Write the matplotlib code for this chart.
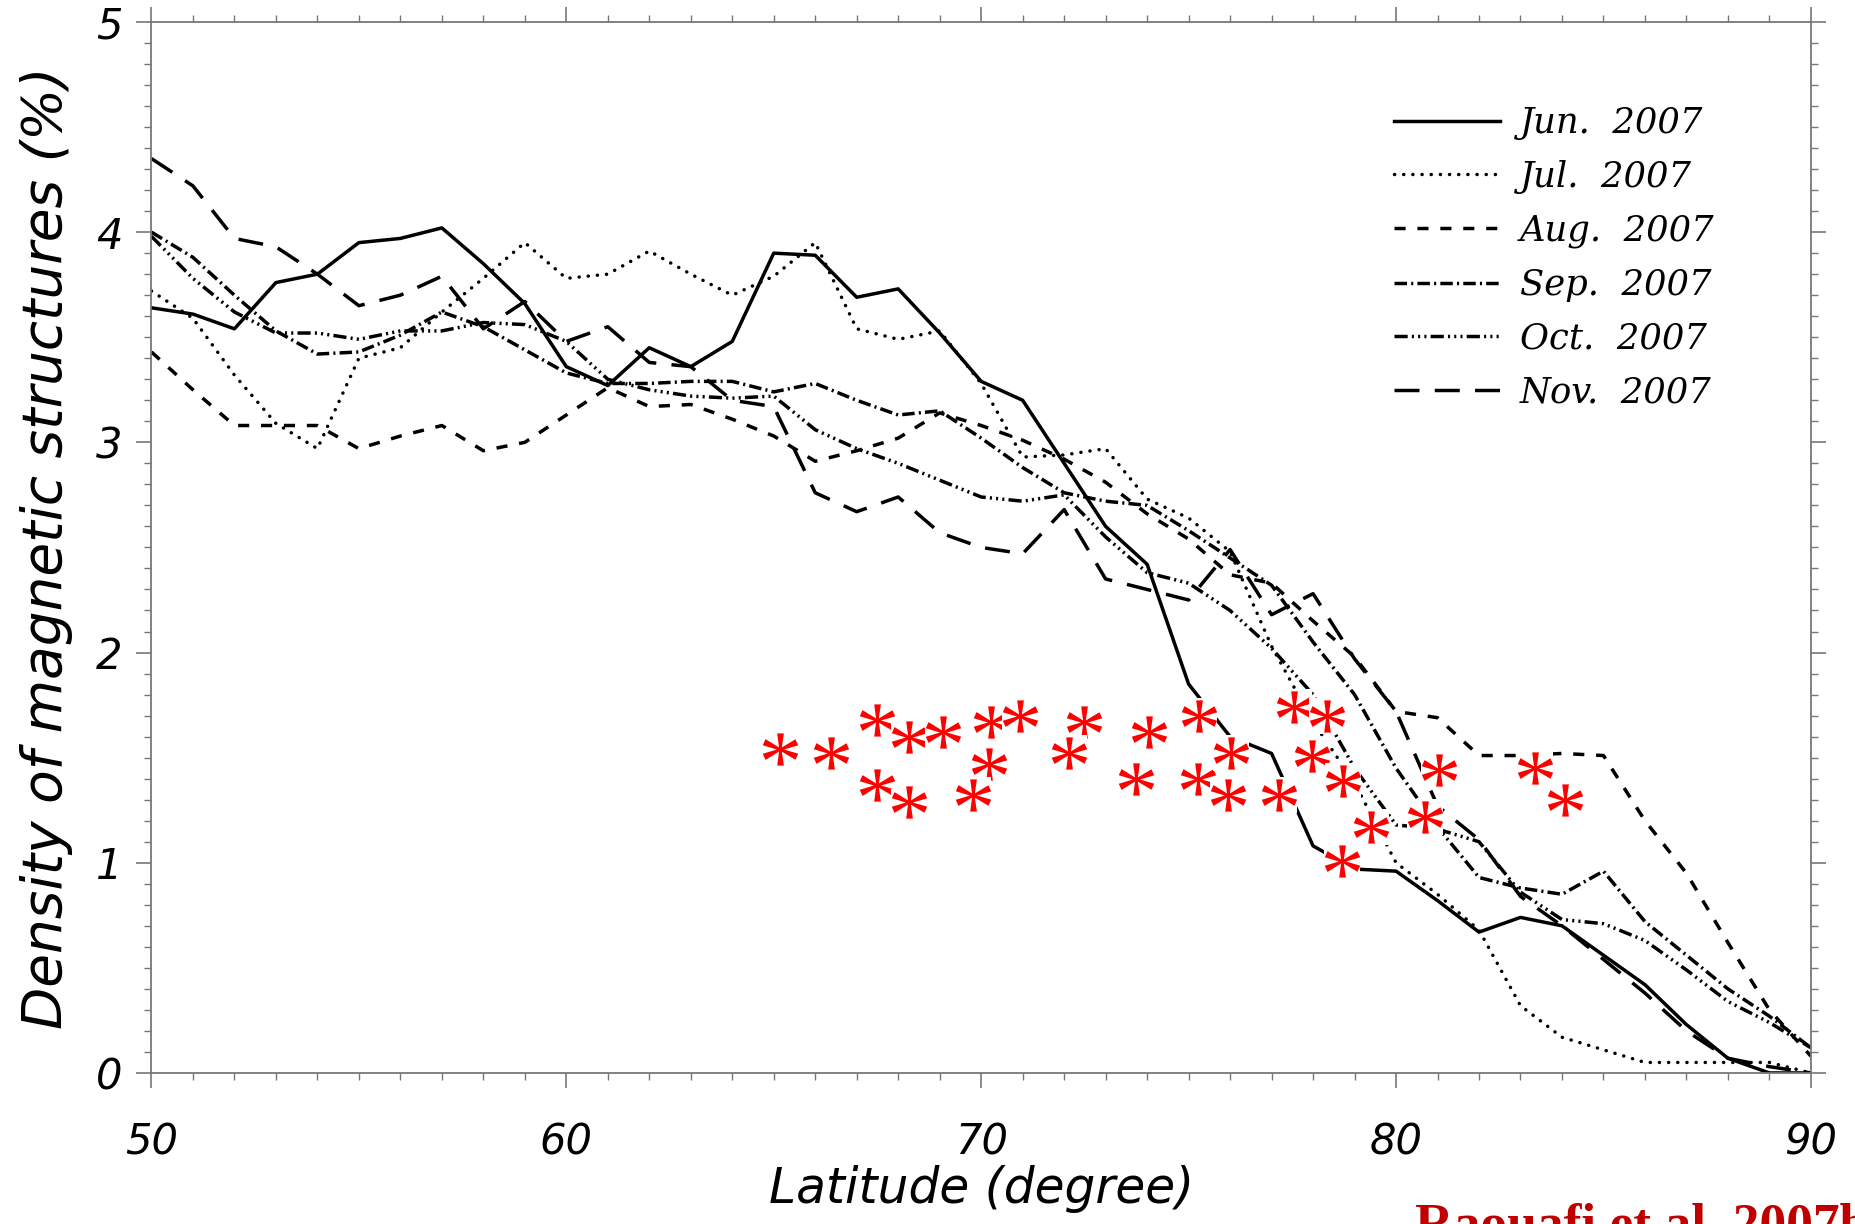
import numpy as np
import matplotlib
matplotlib.use('Agg')
import matplotlib.pyplot as plt
from matplotlib.path import Path
from matplotlib.textpath import TextPath
from matplotlib.font_manager import FontProperties

# latitude grid (1 degree bins)
latitude = np.arange(50, 91)

jun = [3.64, 3.61, 3.54, 3.76, 3.80, 3.95, 3.97, 4.02, 3.85, 3.66,
       3.36, 3.27, 3.45, 3.36, 3.48, 3.90, 3.89, 3.69, 3.73, 3.52,
       3.29, 3.20, 2.90, 2.60, 2.42, 1.85, 1.60, 1.52, 1.08, 0.97,
       0.96, 0.82, 0.67, 0.74, 0.70, 0.56, 0.42, 0.23, 0.07, 0.00, 0.00]
jul = [3.72, 3.59, 3.32, 3.09, 2.97, 3.40, 3.45, 3.62, 3.78, 3.95,
       3.78, 3.80, 3.91, 3.80, 3.70, 3.79, 3.95, 3.54, 3.49, 3.53,
       3.28, 2.93, 2.94, 2.97, 2.73, 2.64, 2.48, 2.03, 1.67, 1.38,
       1.00, 0.85, 0.68, 0.32, 0.17, 0.11, 0.05, 0.05, 0.05, 0.05, 0.00]
aug = [3.43, 3.25, 3.08, 3.08, 3.08, 2.97, 3.03, 3.08, 2.96, 3.00,
       3.13, 3.26, 3.17, 3.18, 3.11, 3.03, 2.91, 2.96, 3.02, 3.14,
       3.08, 3.01, 2.92, 2.81, 2.66, 2.54, 2.37, 2.33, 2.15, 1.98,
       1.72, 1.69, 1.51, 1.51, 1.52, 1.51, 1.20, 0.95, 0.62, 0.30, 0.08]
sep = [4.00, 3.88, 3.70, 3.53, 3.42, 3.43, 3.51, 3.62, 3.55, 3.44,
       3.33, 3.28, 3.28, 3.29, 3.29, 3.24, 3.28, 3.20, 3.13, 3.15,
       3.02, 2.88, 2.76, 2.72, 2.70, 2.58, 2.45, 2.32, 2.05, 1.80,
       1.45, 1.17, 0.93, 0.88, 0.85, 0.96, 0.72, 0.56, 0.40, 0.27, 0.12]
oct_ = [3.98, 3.78, 3.62, 3.52, 3.52, 3.49, 3.53, 3.53, 3.57, 3.56,
        3.48, 3.30, 3.25, 3.22, 3.21, 3.22, 3.06, 2.97, 2.90, 2.82,
        2.74, 2.72, 2.75, 2.55, 2.38, 2.33, 2.20, 2.02, 1.80, 1.45,
        1.18, 1.16, 1.10, 0.86, 0.73, 0.71, 0.63, 0.49, 0.34, 0.24, 0.12]
nov = [4.35, 4.22, 3.97, 3.93, 3.80, 3.65, 3.70, 3.79, 3.54, 3.67,
       3.48, 3.55, 3.38, 3.36, 3.20, 3.17, 2.76, 2.67, 2.74, 2.57,
       2.50, 2.47, 2.68, 2.35, 2.30, 2.25, 2.49, 2.18, 2.28, 1.97,
       1.72, 1.27, 1.11, 0.84, 0.70, 0.54, 0.38, 0.20, 0.07, 0.03, 0.00]

labels = ['Jun.  2007', 'Jul.  2007', 'Aug.  2007',
          'Sep.  2007', 'Oct.  2007', 'Nov.  2007']

# red asterisks (Raouafi et al. 2007b)
star_lat = [65.15, 66.38, 67.49, 68.25, 69.07, 70.24, 70.94, 72.48, 74.04, 75.26,
            77.55, 78.33, 67.50, 68.25, 70.20, 69.81, 72.11, 73.74, 75.23, 76.01,
            75.96, 77.18, 77.97, 78.72, 79.40, 78.70, 81.04, 80.71, 83.35, 84.07]
star_val = [1.54, 1.52, 1.68, 1.60, 1.62, 1.67, 1.70, 1.67, 1.62, 1.70,
            1.74, 1.70, 1.37, 1.29, 1.47, 1.32, 1.52, 1.40, 1.40, 1.52,
            1.32, 1.32, 1.51, 1.39, 1.17, 1.01, 1.44, 1.22, 1.45, 1.30]

plt.rcParams['lines.scale_dashes'] = False

fig = plt.figure(figsize=(18.56, 12.24), dpi=100)
ax = fig.add_axes([0.0816, 0.1234, 0.8941, 0.8587])

styles = [
    dict(linestyle='-'),
    dict(linestyle=(0, (0.1, 6.5)), dash_capstyle='round'),
    dict(linestyle=(0, (8, 8.5))),
    dict(linestyle=(0, (9, 3, 1.5, 3))),
    dict(linestyle=(0, (9.5, 3, 1.5, 3, 1.5, 3, 1.5, 3))),
    dict(linestyle=(0, (18, 11))),
]
series = [jun, jul, aug, sep, oct_, nov]

for vals, lab, st in zip(series, labels, styles):
    ax.plot(latitude, vals, color='black', lw=2.5, label=lab, **st)

# asterisk marker built from a serif '*' glyph, centred
tp = TextPath((0, 0), '*', size=1, prop=FontProperties(family='Liberation Serif'))
verts = tp.vertices.copy()
codes = tp.codes
ext = tp.get_extents()
verts = verts - [(ext.x0 + ext.x1) / 2, (ext.y0 + ext.y1) / 2]
verts[codes == Path.CLOSEPOLY] = 0
star = Path(verts, codes)

for i, (x, y) in enumerate(zip(star_lat, star_val)):
    ax.scatter(x, y, marker='s', s=700, color='white', linewidths=0, zorder=5 + 2 * i)
    ax.scatter(x, y, marker=star, s=650, color='red', linewidths=0, zorder=6 + 2 * i)

ax.set_xlim(50, 90)
ax.set_ylim(0, 5)
ax.set_xticks([50, 60, 70, 80, 90])
ax.set_xticks(np.arange(50, 91, 1), minor=True)
ax.set_yticks([0, 1, 2, 3, 4, 5])
ax.set_yticks(np.arange(0, 5.01, 0.1), minor=True)

ax.tick_params(which='both', direction='out', top=True, right=True, color='#777777')
ax.tick_params(which='major', length=11, width=1.2)
ax.tick_params(which='minor', length=5, width=1.0)
ax.tick_params(axis='x', which='major', pad=24, labelsize=30)
ax.tick_params(axis='y', which='major', pad=10, labelsize=30)
for t in ax.get_xticklabels() + ax.get_yticklabels():
    t.set_fontstyle('italic')
for s in ax.spines.values():
    s.set_color('#777777')
    s.set_linewidth(1.3)

ax.set_xlabel('Latitude (degree)', fontsize=35, fontstyle='italic')
ax.xaxis.set_label_coords(0.5, -0.088)
ax.set_ylabel('Density of magnetic structures (%)', fontsize=39.5, fontstyle='italic')
ax.yaxis.set_label_coords(-0.047, 0.5)

ax.legend(loc='upper left', bbox_to_anchor=(1394 / 1856, 1 - 106 / 1224),
          bbox_transform=fig.transFigure, frameon=False,
          prop=FontProperties(family='DejaVu Serif', style='italic', size=25.5),
          handlelength=3.0, handletextpad=0.55, labelspacing=0.56,
          borderpad=0, borderaxespad=0)

fig.text(1415 / 1856, 1 - 1239 / 1224, 'Raouafi et al. 2007b', fontsize=38.5,
         fontweight='bold', family='Liberation Serif', color='#c00000',
         ha='left', va='baseline')

fig.savefig('out.png', dpi=100)
